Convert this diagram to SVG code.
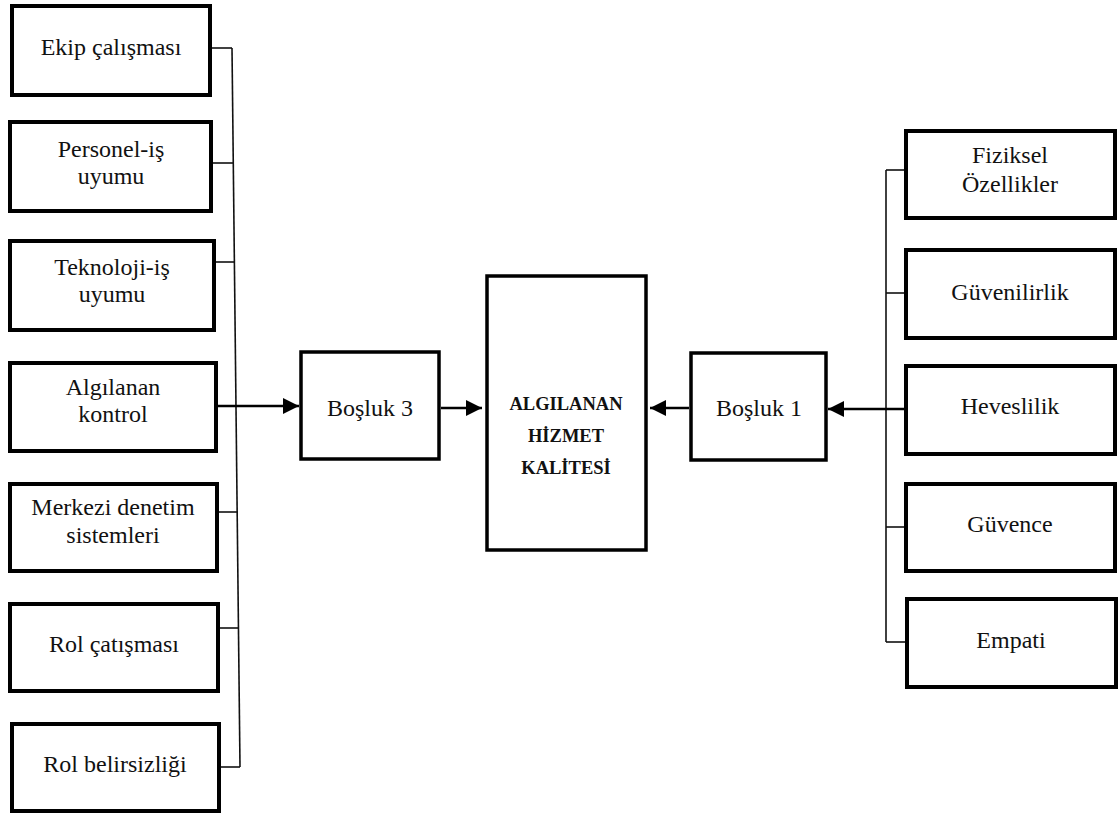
<svg xmlns="http://www.w3.org/2000/svg" width="1120" height="819" viewBox="0 0 1120 819">
  <defs>
    <marker id="arrow" viewBox="0 0 16 16" refX="16" refY="8" markerWidth="16" markerHeight="16" markerUnits="userSpaceOnUse" orient="auto">
      <path d="M0,0 L16,8 L0,16 Z" fill="#000"/>
    </marker>
    <style>
      .box { fill: #fff; stroke: #000; stroke-width: 4; }
      .mid { fill: #fff; stroke: #000; stroke-width: 3.5; }
      text { font-family: 'Liberation Serif', 'DejaVu Serif', serif; fill: #111; text-anchor: middle; }
      .lbl { font-size: 24px; }
      .bold { font-size: 18.5px; font-weight: bold; }
      .link { fill: none; stroke: #111; stroke-width: 1.6; }
      .arr { fill: none; stroke: #000; stroke-width: 2.5; marker-end: url(#arrow); }
    </style>
  </defs>
  <rect width="1120" height="819" fill="#fff"/>

  <!-- connectors -->
  <g id="connectors">
    <!-- left bus -->
    <line class="link" x1="232" y1="48" x2="240" y2="767"/>
    <line class="link" x1="212" y1="48" x2="232" y2="48"/>
    <line class="link" x1="213" y1="163" x2="233" y2="163"/>
    <line class="link" x1="216" y1="262" x2="235" y2="262"/>
    <line class="link" x1="218" y1="512" x2="238" y2="512"/>
    <line class="link" x1="220" y1="628" x2="239" y2="628"/>
    <line class="link" x1="221" y1="767" x2="240" y2="767"/>
    <!-- right bus -->
    <line class="link" x1="886" y1="170" x2="886" y2="642"/>
    <line class="link" x1="886" y1="170" x2="904" y2="170"/>
    <line class="link" x1="886" y1="293" x2="904" y2="293"/>
    <line class="link" x1="886" y1="527" x2="904" y2="527"/>
    <line class="link" x1="886" y1="642" x2="905" y2="642"/>
    <!-- arrows -->
    <line class="arr" x1="218" y1="406" x2="299" y2="406"/>
    <line class="arr" x1="441" y1="408" x2="482" y2="408"/>
    <line class="arr" x1="689" y1="408" x2="650" y2="408"/>
    <line class="arr" x1="904" y1="409" x2="828" y2="409"/>
  </g>

  <!-- left factors -->
  <g id="ekip">
    <rect class="box" x="12" y="6" width="198" height="89"/>
    <text class="lbl" x="111" y="55">Ekip çalışması</text>
  </g>
  <g id="personel">
    <rect class="box" x="10" y="122" width="201" height="89"/>
    <text class="lbl" x="111" y="157">Personel-iş</text>
    <text class="lbl" x="111" y="184">uyumu</text>
  </g>
  <g id="teknoloji">
    <rect class="box" x="10" y="241" width="204" height="89"/>
    <text class="lbl" x="112" y="275">Teknoloji-iş</text>
    <text class="lbl" x="112" y="302">uyumu</text>
  </g>
  <g id="kontrol">
    <rect class="box" x="10" y="363" width="206" height="88"/>
    <text class="lbl" x="113" y="395">Algılanan</text>
    <text class="lbl" x="113" y="422">kontrol</text>
  </g>
  <g id="merkezi">
    <rect class="box" x="10" y="484" width="207" height="87"/>
    <text class="lbl" x="113" y="515">Merkezi denetim</text>
    <text class="lbl" x="113" y="543">sistemleri</text>
  </g>
  <g id="rolcatisma">
    <rect class="box" x="10" y="604" width="208" height="87"/>
    <text class="lbl" x="114" y="652">Rol çatışması</text>
  </g>
  <g id="rolbelirsizlik">
    <rect class="box" x="12" y="724" width="207" height="87"/>
    <text class="lbl" x="115" y="772">Rol belirsizliği</text>
  </g>

  <!-- gaps and outcome -->
  <g id="bosluk3">
    <rect class="mid" x="301" y="352" width="138" height="107"/>
    <text class="lbl" x="370" y="416">Boşluk 3</text>
  </g>
  <g id="hizmet">
    <rect class="mid" x="487" y="276" width="159" height="274"/>
    <text class="bold" x="566" y="410">ALGILANAN</text>
    <text class="bold" x="566" y="442">HİZMET</text>
    <text class="bold" x="566" y="474">KALİTESİ</text>
  </g>
  <g id="bosluk1">
    <rect class="mid" x="691" y="353" width="135" height="107"/>
    <text class="lbl" x="759" y="416">Boşluk 1</text>
  </g>

  <!-- right dimensions -->
  <g id="fiziksel">
    <rect class="box" x="906" y="131" width="209" height="87"/>
    <text class="lbl" x="1010" y="163">Fiziksel</text>
    <text class="lbl" x="1010" y="192">Özellikler</text>
  </g>
  <g id="guvenilirlik">
    <rect class="box" x="906" y="250" width="209" height="88"/>
    <text class="lbl" x="1010" y="300">Güvenilirlik</text>
  </g>
  <g id="heveslilik">
    <rect class="box" x="906" y="366" width="209" height="88"/>
    <text class="lbl" x="1010" y="414">Heveslilik</text>
  </g>
  <g id="guvence">
    <rect class="box" x="906" y="484" width="209" height="87"/>
    <text class="lbl" x="1010" y="532">Güvence</text>
  </g>
  <g id="empati">
    <rect class="box" x="907" y="599" width="209" height="88"/>
    <text class="lbl" x="1011" y="648">Empati</text>
  </g>
</svg>
